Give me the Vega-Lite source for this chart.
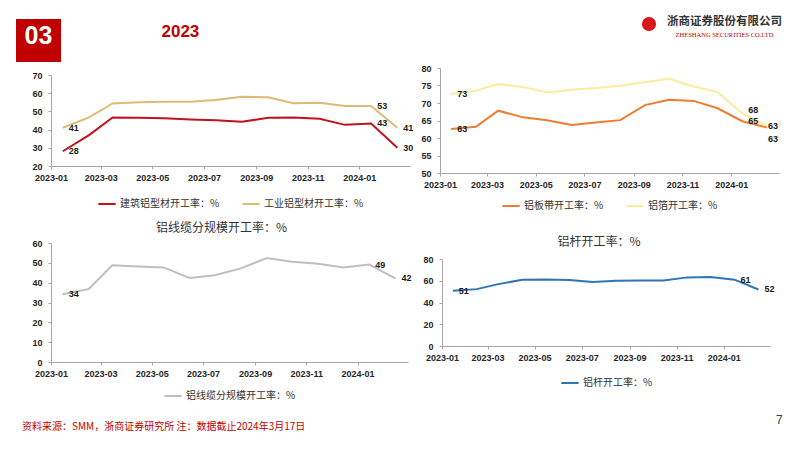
{
  "$schema": "https://vega.github.io/schema/vega-lite/v6.json",
  "background": "white",
  "padding": {"left": 16, "top": 16, "right": 0, "bottom": 0},
  "spacing": 11,
  "align": "none",
  "resolve": {"scale": {"color": "independent"}, "legend": {"color": "independent"}},
  "vconcat": [
    {
      "spacing": 2,
      "align": "none",
      "resolve": {"scale": {"color": "independent"}, "legend": {"color": "independent"}},
      "vconcat": [
        {
          "spacing": 438,
          "hconcat": [
            {
              "spacing": 100,
              "hconcat": [
                {
                  "width": 45, "height": 43,
                  "view": {"fill": "#C00000", "stroke": null},
                  "data": {"values": [{"t": "03"}]},
                  "mark": {"type": "text", "color": "white", "font": "Liberation Sans", "fontWeight": "bold", "fontSize": 25, "dy": -5},
                  "encoding": {"text": {"field": "t"}}
                },
                {
                  "width": 1, "height": 26,
                  "view": {"stroke": null},
                  "data": {"values": [{"t": "2023"}]},
                  "mark": {"type": "text", "align": "left", "color": "#C00000", "font": "Liberation Sans", "fontWeight": "bold", "fontSize": 17},
                  "encoding": {"text": {"field": "t"}}
                }
              ]
            },
            {
              "spacing": 7,
              "hconcat": [
                {
                  "width": 22, "height": 10,
                  "view": {"stroke": null},
                  "data": {"values": [{"t": "logo"}]},
                  "mark": {"type": "circle", "color": "#D7141A", "size": 200, "opacity": 1},
                  "encoding": {}
                },
                {
                  "width": 115, "height": 19,
                  "view": {"stroke": null},
                  "data": {"values": [{"k": 1, "t": "浙商证券股份有限公司"}, {"k": 2, "t": "ZHESHANG SECURITIES CO.LTD"}]},
                  "encoding": {
                    "y": {"field": "k", "type": "ordinal", "scale": {"type": "point", "domain": [1, 2], "padding": 0.2308}, "axis": null},
                    "text": {"field": "t"}
                  },
                  "layer": [
                    {"transform": [{"filter": "datum.k === 1"}], "mark": {"type": "text", "font": "Noto Sans CJK SC", "fontWeight": "bold", "fontSize": 11.5, "color": "#333333"}},
                    {"transform": [{"filter": "datum.k === 2"}], "mark": {"type": "text", "font": "Liberation Serif", "fontSize": 6.5, "color": "#C00000"}}
                  ]
                }
              ]
            }
          ]
        },
        {
          "spacing": 30,
          "bounds": "flush",
          "center": true,
          "resolve": {"scale": {"color": "independent"}, "legend": {"color": "independent"}},
          "hconcat": [
            {
              "width": 5, "height": 1,
              "view": {"stroke": null},
              "data": {"values": [{"t": ""}]},
              "mark": {"type": "text"},
              "encoding": {"text": {"field": "t"}}
            },
            {
              "width": 359, "height": 91,
              "data": {"values": [
                {"d": "2023-01-15", "s": "建筑铝型材开工率：%", "v": 28.1, "l": "28", "p": "r"},
                {"d": "2023-02-15", "s": "建筑铝型材开工率：%", "v": 37.0},
                {"d": "2023-03-15", "s": "建筑铝型材开工率：%", "v": 46.7},
                {"d": "2023-04-15", "s": "建筑铝型材开工率：%", "v": 46.5},
                {"d": "2023-05-15", "s": "建筑铝型材开工率：%", "v": 46.2},
                {"d": "2023-06-15", "s": "建筑铝型材开工率：%", "v": 45.6},
                {"d": "2023-07-15", "s": "建筑铝型材开工率：%", "v": 45.2},
                {"d": "2023-08-15", "s": "建筑铝型材开工率：%", "v": 44.3},
                {"d": "2023-09-15", "s": "建筑铝型材开工率：%", "v": 46.5},
                {"d": "2023-10-15", "s": "建筑铝型材开工率：%", "v": 46.7},
                {"d": "2023-11-15", "s": "建筑铝型材开工率：%", "v": 46.0},
                {"d": "2023-12-15", "s": "建筑铝型材开工率：%", "v": 42.6},
                {"d": "2024-01-15", "s": "建筑铝型材开工率：%", "v": 43.4, "l": "43", "p": "r"},
                {"d": "2024-02-15", "s": "建筑铝型材开工率：%", "v": 30.0, "l": "30", "p": "r"},
                {"d": "2023-01-15", "s": "工业铝型材开工率：%", "v": 41.0, "l": "41", "p": "r"},
                {"d": "2023-02-15", "s": "工业铝型材开工率：%", "v": 46.7},
                {"d": "2023-03-15", "s": "工业铝型材开工率：%", "v": 54.4},
                {"d": "2023-04-15", "s": "工业铝型材开工率：%", "v": 55.0},
                {"d": "2023-05-15", "s": "工业铝型材开工率：%", "v": 55.3},
                {"d": "2023-06-15", "s": "工业铝型材开工率：%", "v": 55.3},
                {"d": "2023-07-15", "s": "工业铝型材开工率：%", "v": 56.3},
                {"d": "2023-08-15", "s": "工业铝型材开工率：%", "v": 58.0},
                {"d": "2023-09-15", "s": "工业铝型材开工率：%", "v": 57.8},
                {"d": "2023-10-15", "s": "工业铝型材开工率：%", "v": 54.5},
                {"d": "2023-11-15", "s": "工业铝型材开工率：%", "v": 54.7},
                {"d": "2023-12-15", "s": "工业铝型材开工率：%", "v": 53.0},
                {"d": "2024-01-15", "s": "工业铝型材开工率：%", "v": 53.0, "l": "53", "p": "r"},
                {"d": "2024-02-15", "s": "工业铝型材开工率：%", "v": 41.0, "l": "41", "p": "r"}
              ]},
              "encoding": {
                "x": {"field": "d", "type": "temporal", "title": null,
                  "scale": {"type": "utc", "domain": [{"year": 2023, "month": 1, "date": 1, "utc": true}, {"year": 2024, "month": 3, "date": 1, "utc": true}]},
                  "axis": {"format": "%Y-%m", "labelFlush": false, "values": [{"year": 2023, "month": 1, "date": 1, "utc": true}, {"year": 2023, "month": 3, "date": 1, "utc": true}, {"year": 2023, "month": 5, "date": 1, "utc": true}, {"year": 2023, "month": 7, "date": 1, "utc": true}, {"year": 2023, "month": 9, "date": 1, "utc": true}, {"year": 2023, "month": 11, "date": 1, "utc": true}, {"year": 2024, "month": 1, "date": 1, "utc": true}]}},
                "y": {"field": "v", "type": "quantitative", "title": null, "scale": {"domain": [20, 70], "nice": false, "zero": false}, "axis": {"values": [20, 30, 40, 50, 60, 70]}}
              },
              "layer": [
                {"mark": {"type": "line", "strokeWidth": 2},
                 "encoding": {"color": {"field": "s", "type": "nominal", "scale": {"domain": ["建筑铝型材开工率：%", "工业铝型材开工率：%"], "range": ["#C0141C", "#DEBB75"]}, "legend": {"title": null, "offset": 12}}}},
                {"transform": [{"filter": "datum.p === 'r'"}],
                 "mark": {"type": "text", "align": "left", "dx": 6, "font": "Liberation Sans", "fontWeight": "bold", "fontSize": 9, "color": "#1a1a1a"},
                 "encoding": {"text": {"field": "l"}}}
              ]
            },
            {
              "width": 339, "height": 105,
              "data": {"values": [
                {"d": "2023-01-15", "s": "铝板带开工率：%", "v": 62.6, "l": "63", "p": "r"},
                {"d": "2023-02-15", "s": "铝板带开工率：%", "v": 63.2},
                {"d": "2023-03-15", "s": "铝板带开工率：%", "v": 67.8},
                {"d": "2023-04-15", "s": "铝板带开工率：%", "v": 65.9},
                {"d": "2023-05-15", "s": "铝板带开工率：%", "v": 65.1},
                {"d": "2023-06-15", "s": "铝板带开工率：%", "v": 63.7},
                {"d": "2023-07-15", "s": "铝板带开工率：%", "v": 64.4},
                {"d": "2023-08-15", "s": "铝板带开工率：%", "v": 65.1},
                {"d": "2023-09-15", "s": "铝板带开工率：%", "v": 69.4},
                {"d": "2023-10-15", "s": "铝板带开工率：%", "v": 70.9},
                {"d": "2023-11-15", "s": "铝板带开工率：%", "v": 70.6},
                {"d": "2023-12-15", "s": "铝板带开工率：%", "v": 68.5},
                {"d": "2024-01-15", "s": "铝板带开工率：%", "v": 64.8, "l": "65", "p": "r"},
                {"d": "2024-02-15", "s": "铝板带开工率：%", "v": 63.0, "l": "63", "p": "rb"},
                {"d": "2023-01-15", "s": "铝箔开工率：%", "v": 72.6, "l": "73", "p": "r"},
                {"d": "2023-02-15", "s": "铝箔开工率：%", "v": 73.5},
                {"d": "2023-03-15", "s": "铝箔开工率：%", "v": 75.4},
                {"d": "2023-04-15", "s": "铝箔开工率：%", "v": 74.6},
                {"d": "2023-05-15", "s": "铝箔开工率：%", "v": 73.0},
                {"d": "2023-06-15", "s": "铝箔开工率：%", "v": 73.8},
                {"d": "2023-07-15", "s": "铝箔开工率：%", "v": 74.3},
                {"d": "2023-08-15", "s": "铝箔开工率：%", "v": 74.9},
                {"d": "2023-09-15", "s": "铝箔开工率：%", "v": 75.9},
                {"d": "2023-10-15", "s": "铝箔开工率：%", "v": 76.9},
                {"d": "2023-11-15", "s": "铝箔开工率：%", "v": 74.7},
                {"d": "2023-12-15", "s": "铝箔开工率：%", "v": 73.1},
                {"d": "2024-01-15", "s": "铝箔开工率：%", "v": 67.0, "l": "68", "p": "ra"},
                {"d": "2024-02-15", "s": "铝箔开工率：%", "v": 63.4, "l": "63", "p": "r0"}
              ]},
              "encoding": {
                "x": {"field": "d", "type": "temporal", "title": null,
                  "scale": {"type": "utc", "domain": [{"year": 2023, "month": 1, "date": 1, "utc": true}, {"year": 2024, "month": 3, "date": 1, "utc": true}]},
                  "axis": {"format": "%Y-%m", "labelFlush": false, "values": [{"year": 2023, "month": 1, "date": 1, "utc": true}, {"year": 2023, "month": 3, "date": 1, "utc": true}, {"year": 2023, "month": 5, "date": 1, "utc": true}, {"year": 2023, "month": 7, "date": 1, "utc": true}, {"year": 2023, "month": 9, "date": 1, "utc": true}, {"year": 2023, "month": 11, "date": 1, "utc": true}, {"year": 2024, "month": 1, "date": 1, "utc": true}]}},
                "y": {"field": "v", "type": "quantitative", "title": null, "scale": {"domain": [50, 80], "nice": false, "zero": false}, "axis": {"values": [50, 55, 60, 65, 70, 75, 80]}}
              },
              "layer": [
                {"mark": {"type": "line", "strokeWidth": 2},
                 "encoding": {"color": {"field": "s", "type": "nominal", "scale": {"domain": ["铝板带开工率：%", "铝箔开工率：%"], "range": ["#ED7D31", "#FFEB9C"]}, "legend": {"title": null, "offset": 7}}}},
                {"transform": [{"filter": "datum.p === 'r'"}],
                 "mark": {"type": "text", "align": "left", "dx": 6, "font": "Liberation Sans", "fontWeight": "bold", "fontSize": 9, "color": "#1a1a1a"},
                 "encoding": {"text": {"field": "l"}}},
                {"transform": [{"filter": "datum.p === 'ra'"}],
                 "mark": {"type": "text", "align": "left", "dx": 6, "dy": -4, "font": "Liberation Sans", "fontWeight": "bold", "fontSize": 9, "color": "#1a1a1a"},
                 "encoding": {"text": {"field": "l"}}},
                {"transform": [{"filter": "datum.p === 'r0'"}],
                 "mark": {"type": "text", "align": "left", "dx": 1, "font": "Liberation Sans", "fontWeight": "bold", "fontSize": 9, "color": "#1a1a1a"},
                 "encoding": {"text": {"field": "l"}}},
                {"transform": [{"filter": "datum.p === 'rb'"}],
                 "mark": {"type": "text", "align": "left", "dx": 1, "dy": 11, "font": "Liberation Sans", "fontWeight": "bold", "fontSize": 9, "color": "#1a1a1a"},
                 "encoding": {"text": {"field": "l"}}}
              ]
            }
          ]
        }
      ]
    },
    {
      "spacing": 13,
      "align": "none",
      "resolve": {"scale": {"color": "independent"}, "legend": {"color": "independent"}},
      "vconcat": [
        {
          "spacing": 34,
          "bounds": "flush",
          "center": true,
          "resolve": {"scale": {"color": "independent"}, "legend": {"color": "independent"}},
          "hconcat": [
            {
              "width": 1, "height": 1,
              "view": {"stroke": null},
              "data": {"values": [{"t": ""}]},
              "mark": {"type": "text"},
              "encoding": {"text": {"field": "t"}}
            },
            {
              "width": 357, "height": 119,
              "title": {"text": "铝线缆分规模开工率：%", "offset": 4, "frame": "group", "dx": -8},
              "data": {"values": [
                {"d": "2023-01-15", "s": "铝线缆分规模开工率：%", "v": 34.2, "l": "34", "p": "r"},
                {"d": "2023-02-15", "s": "铝线缆分规模开工率：%", "v": 36.8},
                {"d": "2023-03-15", "s": "铝线缆分规模开工率：%", "v": 48.8},
                {"d": "2023-04-15", "s": "铝线缆分规模开工率：%", "v": 48.2},
                {"d": "2023-05-15", "s": "铝线缆分规模开工率：%", "v": 47.7},
                {"d": "2023-06-15", "s": "铝线缆分规模开工率：%", "v": 42.4},
                {"d": "2023-07-15", "s": "铝线缆分规模开工率：%", "v": 43.7},
                {"d": "2023-08-15", "s": "铝线缆分规模开工率：%", "v": 47.2},
                {"d": "2023-09-15", "s": "铝线缆分规模开工率：%", "v": 52.4},
                {"d": "2023-10-15", "s": "铝线缆分规模开工率：%", "v": 50.6},
                {"d": "2023-11-15", "s": "铝线缆分规模开工率：%", "v": 49.5},
                {"d": "2023-12-15", "s": "铝线缆分规模开工率：%", "v": 47.6},
                {"d": "2024-01-15", "s": "铝线缆分规模开工率：%", "v": 49.1, "l": "49", "p": "r"},
                {"d": "2024-02-15", "s": "铝线缆分规模开工率：%", "v": 42.2, "l": "42", "p": "r"}
              ]},
              "encoding": {
                "x": {"field": "d", "type": "temporal", "title": null,
                  "scale": {"type": "utc", "domain": [{"year": 2023, "month": 1, "date": 1, "utc": true}, {"year": 2024, "month": 3, "date": 1, "utc": true}]},
                  "axis": {"format": "%Y-%m", "labelFlush": false, "values": [{"year": 2023, "month": 1, "date": 1, "utc": true}, {"year": 2023, "month": 3, "date": 1, "utc": true}, {"year": 2023, "month": 5, "date": 1, "utc": true}, {"year": 2023, "month": 7, "date": 1, "utc": true}, {"year": 2023, "month": 9, "date": 1, "utc": true}, {"year": 2023, "month": 11, "date": 1, "utc": true}, {"year": 2024, "month": 1, "date": 1, "utc": true}]}},
                "y": {"field": "v", "type": "quantitative", "title": null, "scale": {"domain": [0, 60], "nice": false}, "axis": {"values": [0, 10, 20, 30, 40, 50, 60]}}
              },
              "layer": [
                {"mark": {"type": "line", "strokeWidth": 2},
                 "encoding": {"color": {"field": "s", "type": "nominal", "scale": {"domain": ["铝线缆分规模开工率：%"], "range": ["#BFBFBF"]}, "legend": {"title": null, "offset": 8}}}},
                {"transform": [{"filter": "datum.p === 'r'"}],
                 "mark": {"type": "text", "align": "left", "dx": 6, "font": "Liberation Sans", "fontWeight": "bold", "fontSize": 9, "color": "#1a1a1a"},
                 "encoding": {"text": {"field": "l"}}}
              ]
            },
            {
              "width": 328, "height": 87,
              "title": {"text": "铝杆开工率：%", "offset": 6, "frame": "group", "dx": -7},
              "data": {"values": [
                {"d": "2023-01-15", "s": "铝杆开工率：%", "v": 50.8, "l": "51", "p": "r"},
                {"d": "2023-02-15", "s": "铝杆开工率：%", "v": 52.3},
                {"d": "2023-03-15", "s": "铝杆开工率：%", "v": 56.9},
                {"d": "2023-04-15", "s": "铝杆开工率：%", "v": 60.9},
                {"d": "2023-05-15", "s": "铝杆开工率：%", "v": 61.2},
                {"d": "2023-06-15", "s": "铝杆开工率：%", "v": 60.6},
                {"d": "2023-07-15", "s": "铝杆开工率：%", "v": 58.8},
                {"d": "2023-08-15", "s": "铝杆开工率：%", "v": 60.0},
                {"d": "2023-09-15", "s": "铝杆开工率：%", "v": 60.3},
                {"d": "2023-10-15", "s": "铝杆开工率：%", "v": 60.3},
                {"d": "2023-11-15", "s": "铝杆开工率：%", "v": 63.1},
                {"d": "2023-12-15", "s": "铝杆开工率：%", "v": 63.4},
                {"d": "2024-01-15", "s": "铝杆开工率：%", "v": 61.0, "l": "61", "p": "r"},
                {"d": "2024-02-15", "s": "铝杆开工率：%", "v": 52.0, "l": "52", "p": "r"}
              ]},
              "encoding": {
                "x": {"field": "d", "type": "temporal", "title": null,
                  "scale": {"type": "utc", "domain": [{"year": 2023, "month": 1, "date": 1, "utc": true}, {"year": 2024, "month": 3, "date": 1, "utc": true}]},
                  "axis": {"format": "%Y-%m", "labelFlush": false, "values": [{"year": 2023, "month": 1, "date": 1, "utc": true}, {"year": 2023, "month": 3, "date": 1, "utc": true}, {"year": 2023, "month": 5, "date": 1, "utc": true}, {"year": 2023, "month": 7, "date": 1, "utc": true}, {"year": 2023, "month": 9, "date": 1, "utc": true}, {"year": 2023, "month": 11, "date": 1, "utc": true}, {"year": 2024, "month": 1, "date": 1, "utc": true}]}},
                "y": {"field": "v", "type": "quantitative", "title": null, "scale": {"domain": [0, 80], "nice": false}, "axis": {"values": [0, 20, 40, 60, 80]}}
              },
              "layer": [
                {"mark": {"type": "line", "strokeWidth": 2},
                 "encoding": {"color": {"field": "s", "type": "nominal", "scale": {"domain": ["铝杆开工率：%"], "range": ["#2E75B6"]}, "legend": {"title": null, "offset": 11}}}},
                {"transform": [{"filter": "datum.p === 'r'"}],
                 "mark": {"type": "text", "align": "left", "dx": 6, "font": "Liberation Sans", "fontWeight": "bold", "fontSize": 9, "color": "#1a1a1a"},
                 "encoding": {"text": {"field": "l"}}}
              ]
            }
          ]
        },
        {
          "width": 760, "height": 10,
          "view": {"stroke": null},
          "data": {"values": [{"k": "L", "t": "资料来源：SMM，浙商证券研究所 注：数据截止2024年3月17日"}, {"k": "R", "t": "7"}]},
          "encoding": {
            "x": {"field": "k", "type": "nominal", "scale": {"type": "point", "domain": ["L", "R"], "padding": 0}, "axis": null},
            "text": {"field": "t"}
          },
          "layer": [
            {"transform": [{"filter": "datum.k === 'L'"}], "mark": {"type": "text", "align": "left", "dx": 6, "color": "#C00000", "fontSize": 10, "font": "Noto Sans CJK SC"}},
            {"transform": [{"filter": "datum.k === 'R'"}], "mark": {"type": "text", "align": "left", "dy": -7, "color": "#404040", "fontSize": 12, "font": "Liberation Sans"}}
          ]
        }
      ]
    }
  ],
  "config": {
    "font": "Liberation Sans",
    "view": {"stroke": null},
    "axis": {
      "grid": false,
      "domainColor": "#A6A6A6",
      "tickColor": "#A6A6A6",
      "tickSize": 3,
      "labelFont": "Liberation Sans",
      "labelFontWeight": "bold",
      "labelFontSize": 9,
      "labelColor": "#262626"
    },
    "axisX": {"labelPadding": 4},
    "axisY": {"labelPadding": 6, "minExtent": 0, "maxExtent": 0},
    "legend": {
      "orient": "bottom",
      "direction": "horizontal",
      "symbolType": "stroke",
      "symbolStrokeWidth": 2,
      "symbolSize": 300,
      "labelFont": "Noto Sans CJK SC",
      "labelFontSize": 10,
      "labelColor": "#333333",
      "columnPadding": 18,
      "labelOffset": 3,
      "layout": {"bottom": {"anchor": "middle"}}
    },
    "title": {"font": "Noto Sans CJK SC", "fontSize": 12, "fontWeight": "normal", "color": "#333333"}
  }
}
